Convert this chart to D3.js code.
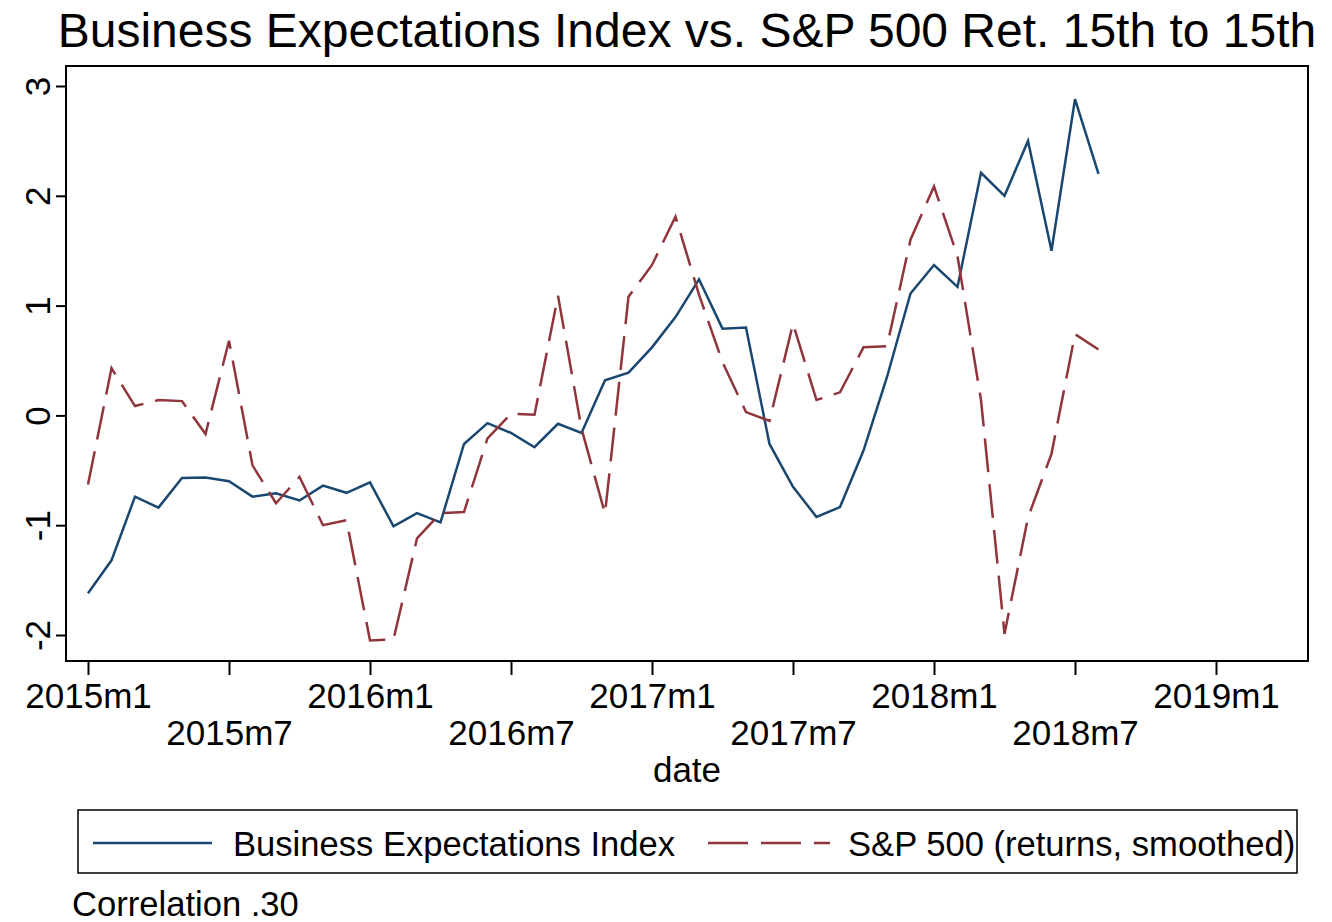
<!DOCTYPE html>
<html>
<head>
<meta charset="utf-8">
<script src="https://cdn.jsdelivr.net/npm/d3@7"></script>
<style>
  html, body { margin: 0; padding: 0; background: #fff; }
  svg { display: block; font-family: "Liberation Sans", Arial, Helvetica, sans-serif; }
</style>
</head>
<body>
<svg id="chart" width="1332" height="922"></svg>
<script>
// months run 2015m1 .. 2018m8
const START_YEAR = 2015;
const N_MONTHS = 44;
const months = d3.range(N_MONTHS).map((i) => `${START_YEAR + Math.floor(i / 12)}m${(i % 12) + 1}`);

const businessIndex = [
  -1.62, -1.32, -0.74, -0.84, -0.57, -0.565, -0.60, -0.74, -0.71, -0.775, -0.64, -0.705,
  -0.61, -1.01, -0.89, -0.975, -0.26, -0.07, -0.16, -0.29, -0.076, -0.16, 0.32, 0.39,
  0.62, 0.895, 1.24, 0.79, 0.80, -0.26, -0.65, -0.925, -0.835, -0.32, 0.35, 1.11,
  1.37, 1.17, 2.21, 2.00, 2.50, 1.50, 2.88, 2.20
];

const sp500 = [
  -0.63, 0.43, 0.085, 0.14, 0.13, -0.17, 0.68, -0.455, -0.80, -0.56, -1.00, -0.955,
  -2.05, -2.04, -1.12, -0.89, -0.88, -0.21, 0.015, 0.006, 1.09, -0.12, -0.895, 1.08,
  1.37, 1.81, 1.10, 0.485, 0.03, -0.05, 0.835, 0.14, 0.21, 0.62, 0.63, 1.60,
  2.085, 1.45, 0.14, -1.99, -0.93, -0.35, 0.74, 0.60
];

const xTickValues = ["2015m1", "2015m7", "2016m1", "2016m7", "2017m1", "2017m7", "2018m1", "2018m7", "2019m1"];
const yTickValues = [-2, -1, 0, 1, 2, 3];

const seriesNames = ["Business Expectations Index", "S&P 500 (returns, smoothed)"];
const NAVY = "#1a476f";
const MAROON = "#90353b";
const DASH = "34,12";
const LABEL_SIZE = 35;

function monthIndex(label) {
  const [y, m] = label.split("m").map(Number);
  return (y - START_YEAR) * 12 + (m - 1);
}

const svg = d3.select("#chart");
const frame = { left: 66, right: 1308, top: 66, bottom: 661 };

const x = d3.scaleLinear().domain([0, 48]).range([88, 1216]);
const y = d3.scaleLinear().domain([-2, 3]).range([635, 86]);

// title
svg.append("text")
  .attr("x", 687)
  .attr("y", 47)
  .attr("text-anchor", "middle")
  .attr("font-size", 48)
  .attr("fill", "#000")
  .text("Business Expectations Index vs. S&P 500 Ret. 15th to 15th");

// plot region
svg.append("rect")
  .attr("x", frame.left)
  .attr("y", frame.top)
  .attr("width", frame.right - frame.left)
  .attr("height", frame.bottom - frame.top)
  .attr("fill", "none")
  .attr("stroke", "#000")
  .attr("stroke-width", 2);

const line = d3.line()
  .x((d, i) => x(i))
  .y((d) => y(d));

svg.append("path")
  .datum(businessIndex)
  .attr("d", line)
  .attr("fill", "none")
  .attr("stroke", NAVY)
  .attr("stroke-width", 2.5);

svg.append("path")
  .datum(sp500)
  .attr("d", line)
  .attr("fill", "none")
  .attr("stroke", MAROON)
  .attr("stroke-width", 2.5)
  .attr("stroke-dasharray", DASH);

// y axis
const yAxis = svg.append("g")
  .attr("transform", `translate(${frame.left},0)`)
  .call(d3.axisLeft(y).tickValues(yTickValues).tickSize(10).tickSizeOuter(0).tickFormat(d3.format("d")));
yAxis.select(".domain").remove();
yAxis.selectAll(".tick line").attr("stroke", "#000").attr("stroke-width", 2);
yAxis.selectAll(".tick text")
  .attr("x", null).attr("dy", null)
  .attr("transform", "translate(-16,0) rotate(-90)")
  .attr("text-anchor", "middle")
  .attr("font-size", LABEL_SIZE)
  .attr("font-family", null)
  .attr("fill", "#000")
  .text((d) => (d < 0 ? "-" + Math.abs(d) : d));

// x axis
function xTickLabel(d) {
  return xTickValues.find((l) => monthIndex(l) === d);
}
const xAxis = svg.append("g")
  .attr("transform", `translate(0,${frame.bottom})`)
  .call(d3.axisBottom(x)
    .tickValues(xTickValues.map(monthIndex))
    .tickSize(14)
    .tickSizeOuter(0)
    .tickFormat(xTickLabel));
xAxis.select(".domain").remove();
xAxis.selectAll(".tick line").attr("stroke", "#000").attr("stroke-width", 2);
xAxis.selectAll(".tick text")
  .attr("dy", null)
  .attr("y", (d, i) => (i % 2 === 0 ? 47 : 84))
  .attr("font-size", LABEL_SIZE)
  .attr("font-family", null)
  .attr("fill", "#000");

svg.append("text")
  .attr("x", 687)
  .attr("y", 782)
  .attr("text-anchor", "middle")
  .attr("font-size", LABEL_SIZE)
  .text("date");

// legend
const legend = svg.append("g");
legend.append("rect")
  .attr("x", 78).attr("y", 810)
  .attr("width", 1219).attr("height", 63)
  .attr("fill", "#fff")
  .attr("stroke", "#000")
  .attr("stroke-width", 1.5);

const legendItems = [
  { name: seriesNames[0], color: NAVY, dash: null, x0: 93, x1: 212, tx: 233 },
  { name: seriesNames[1], color: MAROON, dash: "40,13", x0: 708, x1: 830, tx: 848 }
];
legendItems.forEach((item) => {
  legend.append("line")
    .attr("x1", item.x0).attr("x2", item.x1)
    .attr("y1", 843).attr("y2", 843)
    .attr("stroke", item.color)
    .attr("stroke-width", 2.5)
    .attr("stroke-dasharray", item.dash);
  legend.append("text")
    .attr("x", item.tx)
    .attr("y", 856)
    .attr("font-size", 34.6)
    .text(item.name);
});

svg.append("text")
  .attr("x", 72)
  .attr("y", 916)
  .attr("font-size", 34.6)
  .text("Correlation .30");
</script>
</body>
</html>
